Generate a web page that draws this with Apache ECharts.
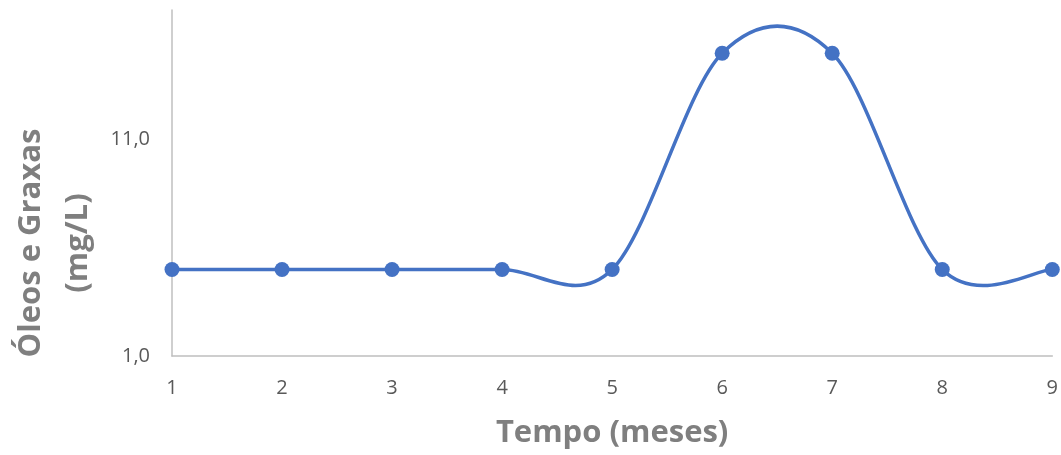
<!DOCTYPE html>
<html>
<head>
<meta charset="utf-8">
<script src="https://cdn.jsdelivr.net/npm/echarts@6/dist/echarts.min.js"></script>
<style>
html,body{margin:0;padding:0;background:#fff;}
#chart{width:1061px;height:455px;}
</style>
</head>
<body>
<div id="chart"></div>
<script>
const categories = ['1','2','3','4','5','6','7','8','9'];
const values = [5, 5, 5, 5, 5, 15, 15, 5, 5];
const yTitle = 'Óleos e Graxas\n(mg/L)';
const xTitle = 'Tempo (meses)';

const LINE_COLOR = '#4472C4';

// Excel-style smoothed line (Catmull-Rom -> cubic Bezier) through the data points,
// positioned through the chart's own axes via api.coord.
function renderSmooth(params, api) {
  const pts = values.map((v, i) => api.coord([i, v]));
  const n = pts.length;
  const children = [];
  for (let i = 0; i < n - 1; i++) {
    const p0 = pts[Math.max(i - 1, 0)];
    const p1 = pts[i];
    const p2 = pts[i + 1];
    const p3 = pts[Math.min(i + 2, n - 1)];
    children.push({
      type: 'bezierCurve',
      shape: {
        x1: p1[0], y1: p1[1],
        cpx1: p1[0] + (p2[0] - p0[0]) / 6, cpy1: p1[1] + (p2[1] - p0[1]) / 6,
        cpx2: p2[0] - (p3[0] - p1[0]) / 6, cpy2: p2[1] - (p3[1] - p1[1]) / 6,
        x2: p2[0], y2: p2[1]
      },
      style: { stroke: LINE_COLOR, lineWidth: 3.5, fill: 'none' }
    });
  }
  return { type: 'group', children: children };
}

const chart = echarts.init(document.getElementById('chart'));
chart.setOption({
  animation: false,
  grid: { left: 172, right: 8, top: 10, bottom: 99, containLabel: false },
  xAxis: {
    type: 'category',
    data: categories,
    boundaryGap: false,
    axisLine: { lineStyle: { color: '#bfbfbf', width: 1.5 } },
    axisTick: { show: false },
    axisLabel: { color: '#595959', fontSize: 20, fontFamily: 'Open Sans', margin: 22 },
    name: xTitle,
    nameLocation: 'middle',
    nameGap: 62,
    nameTextStyle: { color: '#7f7f7f', fontSize: 31, fontWeight: 'bold', fontFamily: 'Open Sans' }
  },
  yAxis: {
    type: 'value',
    min: 1,
    max: 17,
    interval: 10,
    axisLine: { show: true, lineStyle: { color: '#bfbfbf', width: 1.5 } },
    axisTick: { show: false },
    splitLine: { show: false },
    axisLabel: {
      color: '#595959', fontSize: 20, fontFamily: 'Open Sans', margin: 22,
      showMaxLabel: false,
      formatter: v => (v === 17 ? '' : v.toFixed(1).replace('.', ','))
    }
  },
  graphic: [{
    type: 'text',
    x: 55, y: 243,
    rotation: Math.PI / 2,
    style: {
      text: yTitle,
      fill: '#7f7f7f',
      font: 'bold 31px "Open Sans"',
      align: 'center',
      verticalAlign: 'middle',
      lineHeight: 47
    }
  }],
  series: [{
    type: 'custom',
    data: [0],
    clip: false,
    silent: true,
    z: 2,
    renderItem: renderSmooth
  }, {
    type: 'line',
    data: values,
    symbol: 'circle',
    symbolSize: 15,
    z: 3,
    lineStyle: { opacity: 0 },
    itemStyle: { color: LINE_COLOR }
  }]
});
</script>
</body>
</html>
